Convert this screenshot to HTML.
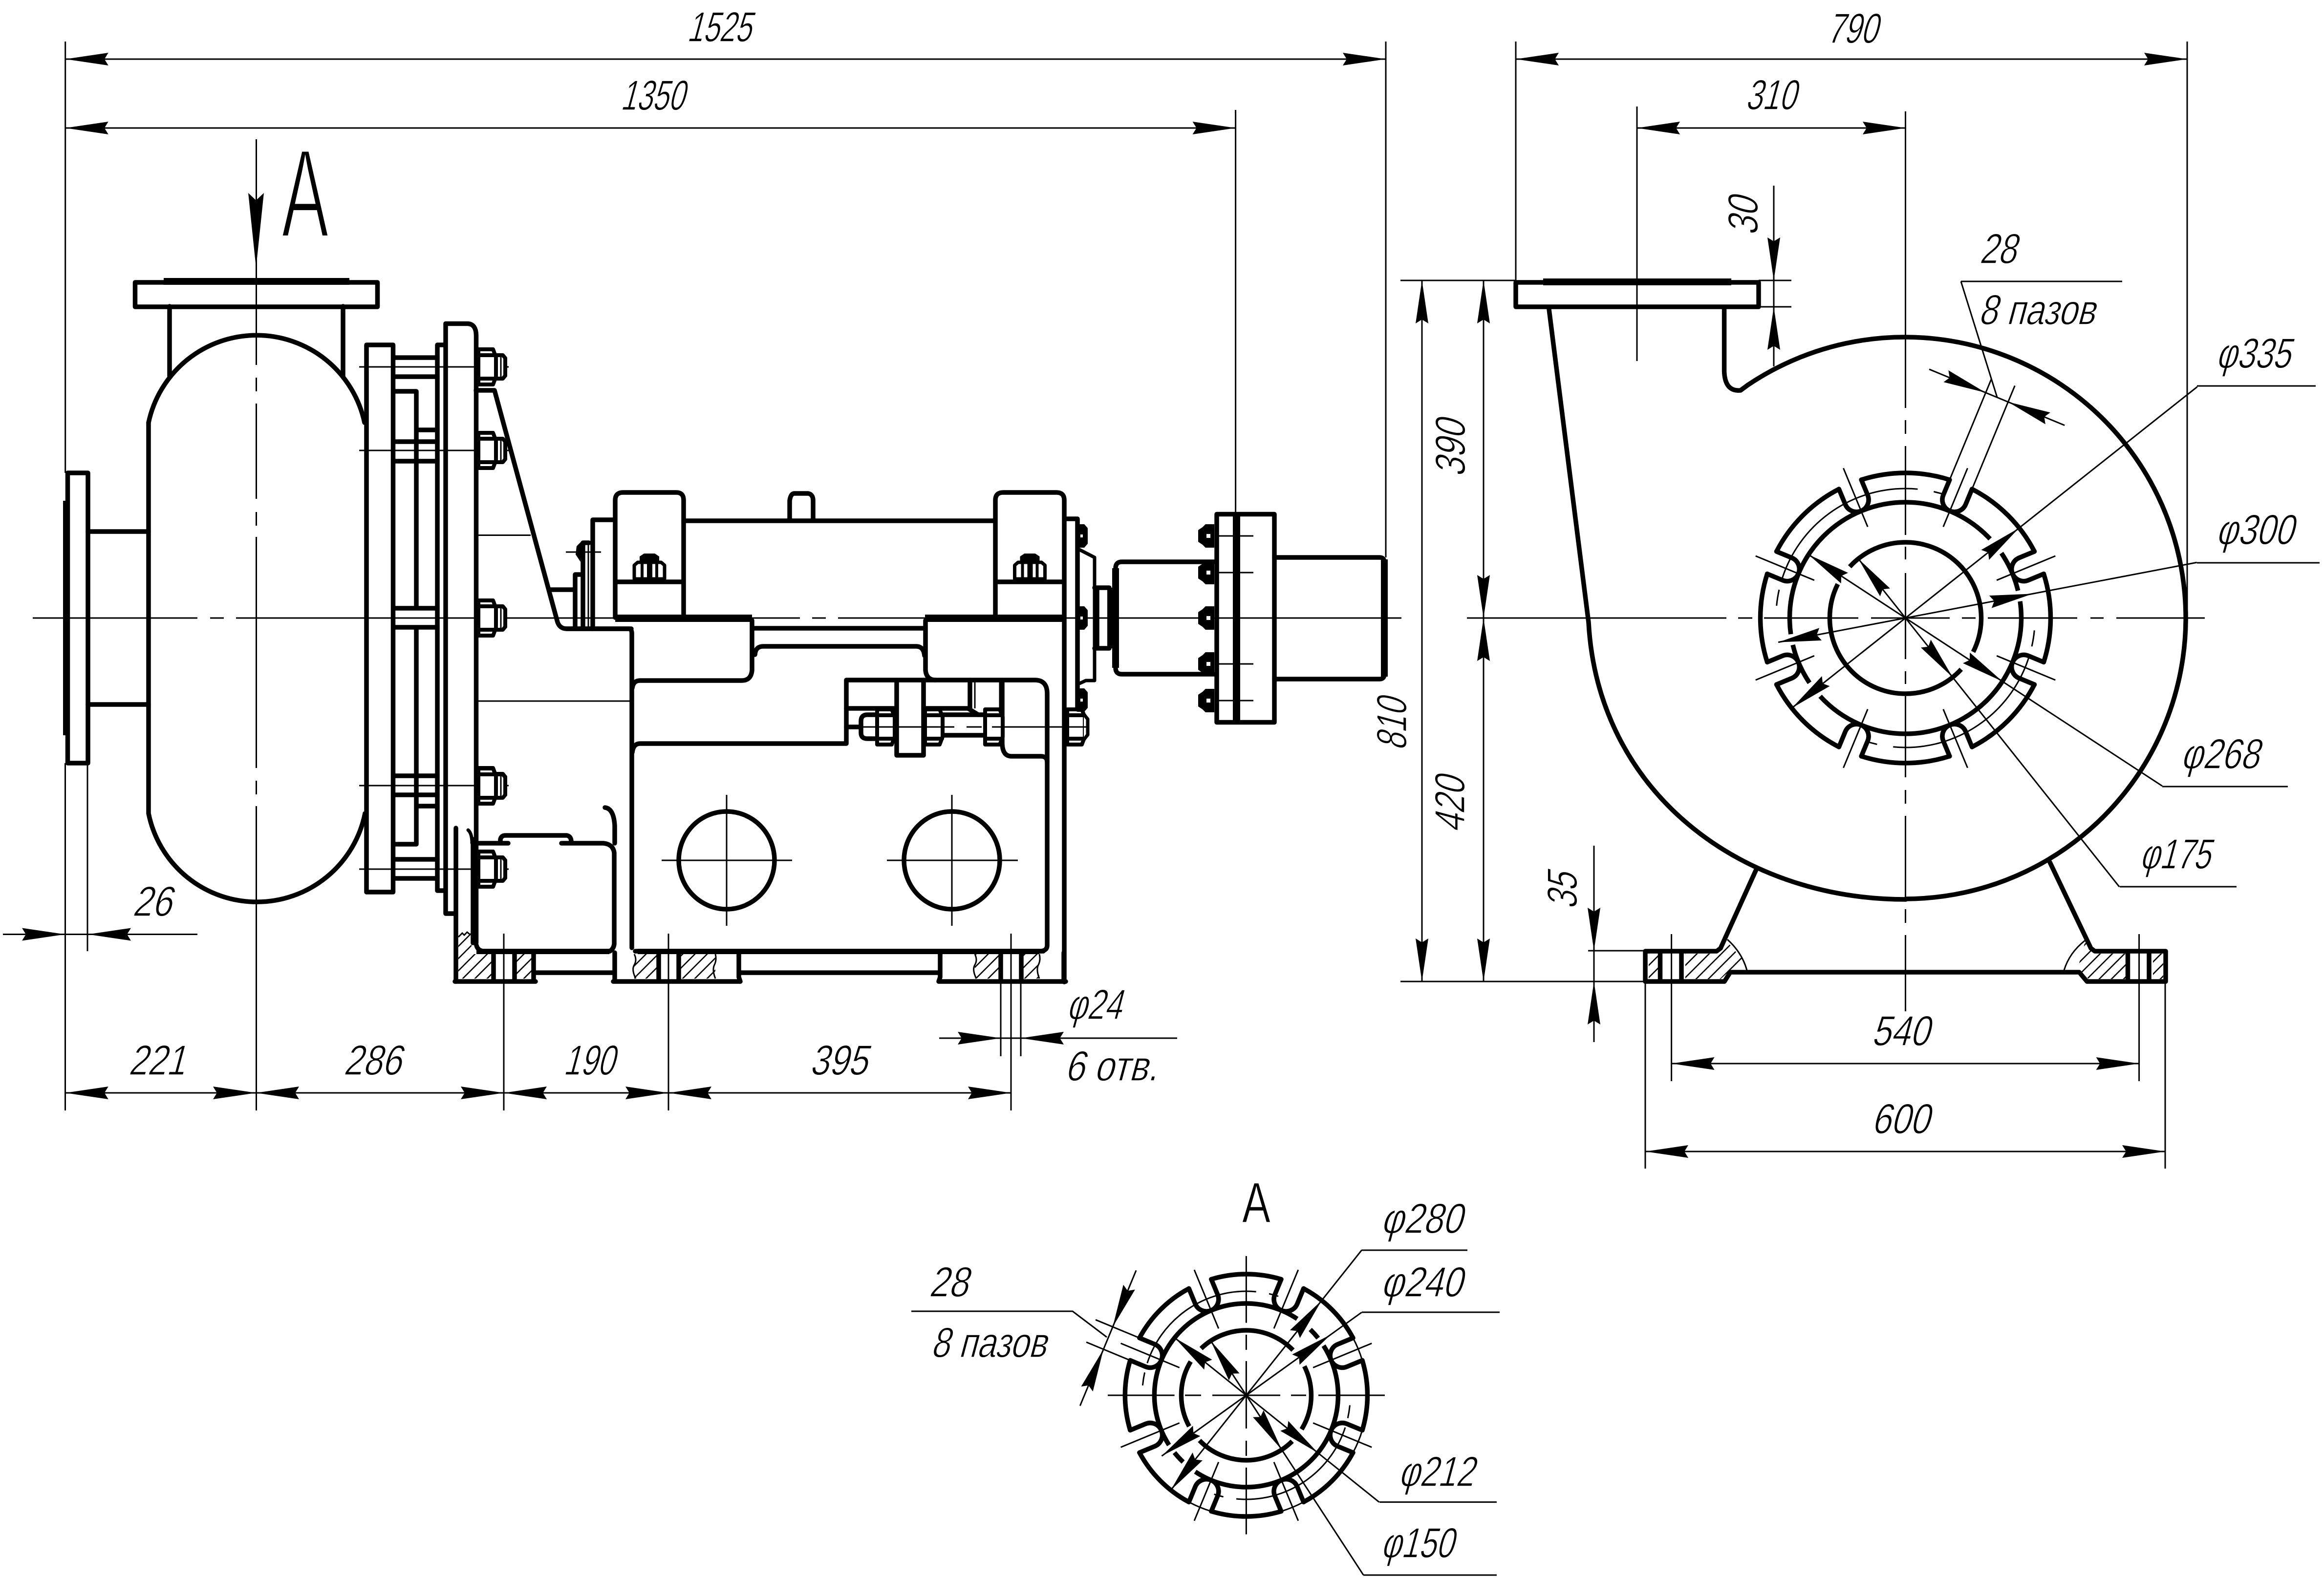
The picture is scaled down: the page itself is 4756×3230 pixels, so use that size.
<!DOCTYPE html>
<html>
<head>
<meta charset="utf-8">
<title>Pump drawing</title>
<style>
html,body{margin:0;padding:0;background:#fff}
svg{display:block}
.k{stroke:#000;fill:none;stroke-width:9.5;stroke-linejoin:round;stroke-linecap:round}
.w{stroke:#000;fill:#fff;stroke-width:8;stroke-linejoin:round}
.t{stroke:#000;fill:none;stroke-width:3}
text{font-family:"Liberation Sans",sans-serif;font-size:87px;fill:#000;stroke:#fff;stroke-width:1.5px}
</style>
</head>
<body>
<svg xmlns="http://www.w3.org/2000/svg" width="4756" height="3230" viewBox="0 0 4756 3230">
<defs>
<pattern id="h" width="25" height="25" patternUnits="userSpaceOnUse"><path d="M-5 30L30 -5M-5 5L5 -5M20 30L30 20" stroke="#000" stroke-width="2.6" fill="none"/></pattern>
<polygon id="a" points="0,0 88,-13 80,0 88,13" fill="#000"/>
<g id="n0"><path class="w" d="M0 -36H30L36 -20V20L30 36H0Z"/><path class="k" style="stroke-width:8" d="M0 -24H35M0 24H35"/></g>
<g id="n"><path class="w" d="M36 -24H50L55 -18V18L50 24H36" /><path class="t" d="M46 -24V24"/><use href="#n0"/></g>
<g id="s"><path d="M-20 -38V-48L-11 -54H11L20 -48V-38Z" fill="#000"/><path class="w" style="stroke-width:7" d="M-31 -2V-30L-24 -36H24L31 -30V-2Z"/><path stroke="#000" stroke-width="6" d="M-15 -34V-2M15 -34V-2M-2 -34V-2M3 -34V-2" fill="none"/></g>
<g id="b"><path d="M0 -24H-18L-24 -18L-33 -12V12L-24 18L-18 24H0Z" fill="#000"/><rect x="-16" y="-4" width="8" height="8" fill="#fff"/></g>
<g id="b2"><path d="M0 -24H14L21 -16V16L14 24H0Z" fill="#000"/><rect x="6" y="-3" width="5" height="6" fill="#fff"/></g>
<g id="seg1"><path class="k" d="M-90.3 -282.9A297 297 0 0 1 90.3 -282.9"/></g>
<g id="slot1"><path class="k" d="M-24.8 -296V-262A24.8 24.8 0 0 0 24.8 -262V-296"/><path class="t" d="M0 -332V-202"/></g>
<g id="seg2"><path class="k" d="M-71.5 -237.5A248 248 0 0 1 71.5 -237.5"/></g>
<g id="slot2"><path class="k" d="M-24.8 -246.8V-212.8A24.8 24.8 0 0 0 24.8 -212.8V-246.8"/><path class="t" d="M0 -278V-148"/></g>
<g id="R1"><use href="#seg1"/><use href="#seg1" transform="rotate(45)"/><use href="#seg1" transform="rotate(90)"/><use href="#seg1" transform="rotate(135)"/><use href="#seg1" transform="rotate(180)"/><use href="#seg1" transform="rotate(225)"/><use href="#seg1" transform="rotate(270)"/><use href="#seg1" transform="rotate(315)"/>
<use href="#slot1" transform="rotate(22.5)"/><use href="#slot1" transform="rotate(67.5)"/><use href="#slot1" transform="rotate(112.5)"/><use href="#slot1" transform="rotate(157.5)"/><use href="#slot1" transform="rotate(202.5)"/><use href="#slot1" transform="rotate(247.5)"/><use href="#slot1" transform="rotate(292.5)"/><use href="#slot1" transform="rotate(337.5)"/></g>
<g id="R2"><use href="#seg2"/><use href="#seg2" transform="rotate(45)"/><use href="#seg2" transform="rotate(90)"/><use href="#seg2" transform="rotate(135)"/><use href="#seg2" transform="rotate(180)"/><use href="#seg2" transform="rotate(225)"/><use href="#seg2" transform="rotate(270)"/><use href="#seg2" transform="rotate(315)"/>
<use href="#slot2" transform="rotate(22.5)"/><use href="#slot2" transform="rotate(67.5)"/><use href="#slot2" transform="rotate(112.5)"/><use href="#slot2" transform="rotate(157.5)"/><use href="#slot2" transform="rotate(202.5)"/><use href="#slot2" transform="rotate(247.5)"/><use href="#slot2" transform="rotate(292.5)"/><use href="#slot2" transform="rotate(337.5)"/></g>
</defs>
<rect width="4756" height="3230" fill="#fff"/>

<!-- ======= SIDE VIEW: centre lines ======= -->
<path class="t" d="M67 1265H404M430 1265H458M483 1265H1637M1662 1265H1690M1715 1265H2868"/>
<path class="t" d="M524.5 285V747M524.5 773V801M524.5 826V1021M524.5 1048V1076M524.5 1099V1572M524.5 1598V1626M524.5 1650V2273"/>

<!-- casing -->
<path class="k" d="M304 865A226 226 0 0 1 746 865"/>
<path class="k" d="M304 865V1665A226 226 0 0 0 747 1665"/>
<path class="k" d="M347 627V770M702 627V770"/>
<rect class="k" x="276.5" y="578" width="496" height="50"/>
<rect x="335" y="569" width="380" height="14" fill="#000"/>
<!-- inlet flange -->
<rect class="k" x="138.5" y="968" width="41.5" height="594"/>
<rect x="129" y="1025" width="14" height="480" fill="#000"/>
<path class="k" d="M180 1088H304M180 1442H304"/>

<!-- plates -->
<rect class="k" x="750" y="706" width="54.5" height="1120"/>
<path class="k" d="M895 1823V706H912M912 662.5V1870H932M895 1823H912"/>
<path class="k" d="M912 662.5H958Q974 664 974.5 686V1930"/>
<path class="k" d="M805 732H895M805 771H895M805 801H852V1245M852 880H895M805 904H895M805 944H895M805 1245H895M805 1284H895M852 1284V1728H805M853 1650H895M805 1588H895M805 1627H895M805 1759H895M805 1798H895"/>
<path class="t" d="M735 751H1041M735 922H1041M735 1265H1041M735 1608H1041M735 1779H1041"/>
<use href="#n" x="979" y="751"/><use href="#n" x="979" y="922"/><use href="#n" x="979" y="1265"/><use href="#n" x="979" y="1608"/><use href="#n" x="979" y="1779"/>

<!-- slanted support -->
<path class="k" d="M974 799H1012L1140 1270Q1144 1287 1160 1287H1292"/>
<path class="t" d="M974 1095.5H1086M974 1435H1292"/>
<path class="k" d="M1124 1207H1177M1177 1287V1176H1193M1193 1287V1111H1205M1213 1287V1064H1255"/>
<path class="t" d="M1204 1111V1287M1158 1130H1230"/>
<path d="M1190 1108L1180 1118L1178 1135L1188 1150Z" fill="#000"/>

<!-- clamps and bearing body -->
<path class="k" d="M1259 1264V1024Q1259 1008 1275 1008H1384Q1399 1008 1399 1024V1264M1259 1191H1399"/>
<path class="k" d="M2037 1264V1024Q2037 1008 2053 1008H2162Q2178 1008 2178 1024V2010M2037 1191H2178"/>
<path class="k" d="M1399 1066H2037M1616 1062V1025Q1618 1010 1626 1010H1654Q1664 1012 1664 1025V1062"/>
<rect x="1259" y="1258" width="280" height="15" fill="#000"/>
<rect x="1893" y="1258" width="285" height="15" fill="#000"/>
<path class="k" d="M1545 1286H1893"/>
<use href="#s" x="1329" y="1187"/><use href="#s" x="2107.5" y="1187"/>

<!-- frame shapes -->
<path class="k" d="M1159 1287H1287Q1292 1287 1293 1295V1940"/>
<path class="k" d="M1539 1270V1372Q1537 1393 1518 1393H1310Q1296 1393 1294 1408"/>
<path class="k" d="M1545 1340Q1546 1323 1562 1323H1875Q1890 1323 1892 1342"/>
<path class="k" d="M1894 1270V1372Q1896 1392 1915 1392H2118Q2143 1392 2143 1420V1935Q2143 1947 2127 1947"/>
<path class="k" d="M1732 1392H1915M1732 1392V1522H1310Q1296 1522 1294 1540"/>
<path class="k" d="M1732 1450H1830M1890 1450H1981L2002 1463M1985 1392V1450M2051 1392V1520Q2051 1548 2070 1548H2130Q2143 1548 2143 1560"/>
<path class="k" d="M1835 1392V1546H1890V1392"/>
<path class="t" d="M1995 1392V1450M2046 1392V1450"/>
<path class="k" d="M1732 1488H1760"/>
<path class="k" d="M1795 1463H1775Q1762 1463 1762 1476V1500Q1762 1512 1775 1512H1795"/>
<path class="k" d="M1925 1463H2016M1925 1505H2016"/>
<use href="#n0" x="1795" y="1488"/><use href="#n0" x="1893" y="1488"/><use href="#n0" x="2016" y="1488"/><use href="#n0" x="2184" y="1488"/>
<path class="w" style="stroke-width:7" d="M2218 1462L2226 1472V1504L2218 1514"/>
<path class="t" d="M1760 1488H1953M1978 1488H2009M2030 1488H2223"/>

<!-- lower frame / box -->
<path class="k" d="M1300 1947H2135M975 1935Q978 1947 992 1947H1248"/>
<path class="k" d="M968 1718V1930"/>
<path class="k" d="M974 1726H1040M1024 1726V1718Q1026 1710 1034 1710H1160Q1170 1712 1169 1726H1149M1149 1726H1235Q1255 1728 1257 1746V1932Q1256 1942 1248 1947"/>
<path class="k" d="M1238 1653Q1256 1655 1258 1690V1726"/>
<path class="k" style="stroke-width:7" d="M958 1699Q966 1706 966 1726"/>
<path class="k" d="M933 1695V2009"/>
<use href="#n" x="979" y="1609"/><use href="#n" x="979" y="1779"/>
<path class="k" d="M931 2009H1096M1092 1950V2009M1096 1991H1255M1258 1950V2009M1255 2009H1515M1512 1950V2000L1515 2009M1515 1991H1921M1924 1950V2000L1921 2009M1921 2009H2181M2177 1950V2009"/>
<path class="k" d="M1010 1950V2005M1053 1950V2005M1348 1950V2005M1389 1950V2005M2048 1950V2005M2090 1950V2005"/>
<rect x="975" y="1942" width="272" height="11" fill="#000"/><rect x="1305" y="1942" width="822" height="11" fill="#000"/>
<!-- hatching side -->
<rect x="938" y="1953" width="68" height="50" fill="url(#h)"/>
<polygon points="938,1915 965,1890 965,1953 938,1953" fill="url(#h)"/>
<path class="t" d="M938 1918l8-8 4 4 6-6 6 5"/>
<rect x="1057" y="1953" width="31" height="50" fill="url(#h)"/>
<rect x="1298" y="1953" width="46" height="50" fill="url(#h)"/>
<rect x="1393" y="1953" width="71" height="50" fill="url(#h)"/>
<rect x="1995" y="1953" width="49" height="50" fill="url(#h)"/>
<rect x="2094" y="1953" width="33" height="50" fill="url(#h)"/>
<path class="t" d="M1298 1953q6 12 0 22t3 28M1464 1953q3 12 -2 22t2 28M1995 1953q6 12 0 22t3 28M2127 1953q3 12 -2 22t2 28"/>

<ellipse class="k" cx="1487" cy="1761" rx="98" ry="100"/>
<ellipse class="k" cx="1948" cy="1761" rx="98" ry="100"/>
<path class="t" d="M1354 1761H1621M1487 1627V1895M1815 1761H2083M1948 1627V1895"/>

<!-- shaft side -->
<path class="k" d="M2178 1062H2205V1452"/>
<path class="k" style="stroke-width:7" d="M2207 1124L2240 1141V1393H2222L2207 1400"/>
<use href="#b2" x="2205" y="1097"/><use href="#b2" x="2205" y="1265"/><use href="#b2" x="2205" y="1433"/>
<path class="k" d="M2240 1203H2270M2240 1327H2270M2245 1203V1327"/>
<rect x="2266" y="1203" width="17" height="124" fill="#000"/>
<path class="k" d="M2485 1150H2296Q2283 1150 2283 1163V1367Q2283 1380 2296 1380H2485"/>
<rect x="2276" y="1163" width="14" height="204" fill="#000"/>
<rect class="k" x="2490" y="1052.5" width="118" height="426"/>
<rect x="2523" y="1052" width="15" height="427" fill="#000"/>
<path class="k" d="M2608 1141H2823Q2833 1141 2833 1151V1380Q2833 1390 2823 1390H2608"/>
<rect x="2826" y="1145" width="14" height="240" fill="#000"/>
<use href="#b" x="2485" y="1097"/><use href="#b" x="2485" y="1172"/><use href="#b" x="2485" y="1265"/><use href="#b" x="2485" y="1359"/><use href="#b" x="2485" y="1434"/>
<path class="t" d="M2490 1097H2565M2490 1172H2565M2490 1359H2565M2490 1434H2565"/>

<!-- ======= SIDE VIEW: dimensions ======= -->
<path class="t" d="M133.7 85V968M133.5 1562V2273M179 1562V1947M2836 85V1141M2528.6 225V1052M1031 1911V2273M1368 1911V2273M2069 1911V2273"/>
<path class="t" d="M133.7 121H2836M133.7 262H2528.6M133.7 2237H2069"/>
<use href="#a" transform="translate(133.7 121)"/><use href="#a" transform="translate(2836 121) rotate(180)"/>
<use href="#a" transform="translate(133.7 262)"/><use href="#a" transform="translate(2528.6 262) rotate(180)"/>
<use href="#a" transform="translate(133.7 2237)"/><use href="#a" transform="translate(524 2237) rotate(180)"/>
<use href="#a" transform="translate(524 2237)"/><use href="#a" transform="translate(1031 2237) rotate(180)"/>
<use href="#a" transform="translate(1031 2237)"/><use href="#a" transform="translate(1368 2237) rotate(180)"/>
<use href="#a" transform="translate(1368 2237)"/><use href="#a" transform="translate(2069 2237) rotate(180)"/>
<path class="t" d="M6 1912.5H404"/>
<use href="#a" transform="translate(133 1912.5) rotate(180)"/><use href="#a" transform="translate(180 1912.5)"/>
<path class="t" d="M2048 2009V2162M2089 2009V2162M1922 2125H2409"/>
<use href="#a" transform="translate(2048 2125) rotate(180)"/><use href="#a" transform="translate(2089 2125)"/>
<polygon points="524,548 508,395 524,410 540,395" fill="#000"/>

<text transform="translate(1405 85) skewX(-15)" textLength="131" lengthAdjust="spacingAndGlyphs">1525</text>
<text transform="translate(1269 225) skewX(-15)" textLength="130" lengthAdjust="spacingAndGlyphs">1350</text>
<text transform="translate(262 2200) skewX(-15)" textLength="116" lengthAdjust="spacingAndGlyphs">221</text>
<text transform="translate(702 2200) skewX(-15)" textLength="118" lengthAdjust="spacingAndGlyphs">286</text>
<text transform="translate(1152 2200) skewX(-15)" textLength="104" lengthAdjust="spacingAndGlyphs">190</text>
<text transform="translate(1656 2200) skewX(-15)" textLength="118" lengthAdjust="spacingAndGlyphs">395</text>
<text transform="translate(270 1875) skewX(-15)" textLength="80" lengthAdjust="spacingAndGlyphs">26</text>
<text transform="translate(2182 2086) skewX(-15)" textLength="112" lengthAdjust="spacingAndGlyphs">φ24</text>
<text transform="translate(2178 2212) skewX(-15)" textLength="190" lengthAdjust="spacingAndGlyphs">6 отв.</text>
<text transform="translate(2878 1537) rotate(-90) skewX(-15)" textLength="106" lengthAdjust="spacingAndGlyphs">810</text>
<text transform="translate(576 485)" textLength="97" lengthAdjust="spacingAndGlyphs" style="font-size:258px;stroke:#fff;stroke-width:6px">A</text>

<!-- ======= RIGHT VIEW ======= -->
<path class="t" d="M3002 1265H3533M3557 1265H3586M3610 1265H3803M3829 1265H3990M4015 1265H4043M4068 1265H4251M4278 1265H4305M4331 1265H4512"/>
<path class="t" d="M3899.5 228V835M3899.5 860V888M3899.5 913V1095M3899.5 1119V1145M3899.5 1173V1349M3899.5 1374V1400M3899.5 1425V1591M3899.5 1617V1645M3899.5 1670V1836M3899.5 1861V1889M3899.5 1914V2070"/>
<path class="t" d="M3350 218V739"/>
<rect class="k" x="3102" y="578" width="497" height="50"/>
<rect x="3158" y="570" width="385" height="14" fill="#000"/>
<path class="k" d="M3170 633L3251 1274C3270 1620 3560 1841 3900 1841"/>
<path class="k" d="M3528.6 631V760Q3530 802 3562 799L3577 788A575 575 0 1 1 3900 1840"/>
<!-- feet -->
<path class="k" d="M3594 1780L3521 1941L3513 1947H3367V2009H3529L3541 1990H4255L4271 2009H4432V1947H4287L4279 1941L4195 1765"/>
<path class="k" d="M3397.5 1952V2005M3441 1952V2005M4354.5 1952V2005M4398 1952V2005"/>
<polygon points="3449,1952 3521,1952 3535,1928 3565,1963 3541,1986 3521,2004 3449,2004" fill="url(#h)"/>
<polygon points="4251,1986 4267,1928 4287,1952 4350,1952 4350,2004 4275,2004" fill="url(#h)"/>
<rect x="3374" y="1952" width="19" height="52" fill="url(#h)"/>
<rect x="4406" y="1952" width="21" height="52" fill="url(#h)"/>
<path class="t" d="M3535 1923Q3565 1950 3575 1986M4267 1925Q4235 1950 4224 1986"/>

<!-- ring -->
<g transform="translate(3899.5 1265)">
<use href="#R1"/>
<circle class="k" style="stroke-linecap:butt" r="237" pathLength="360" stroke-dasharray="137.5 8.5 20.6 5.4 145 9 20.4 5.4 8.2"/>
<circle class="k" style="stroke-linecap:butt" r="155" pathLength="360" stroke-dasharray="26.6 16 164 16 137.4"/>
<circle class="t" r="265" pathLength="360" stroke-dasharray="0 5.5 7.2 5.3 72"/>
<g transform="rotate(22.5)"><path class="t" d="M-24.8 -296V-520M24.8 -296V-525M-150 -489H150"/><use href="#a" transform="translate(-24.8 -489) rotate(180)"/><use href="#a" transform="translate(24.8 -489)"/></g>
<g transform="rotate(-38.4)"><path class="t" d="M-296 0H762"/><use href="#a" transform="translate(296 0) rotate(180)"/><use href="#a" transform="translate(-296 0)"/></g>
<g transform="rotate(-10.8)"><path class="t" d="M-265 0H607"/><use href="#a" transform="translate(265 0) rotate(180)"/><use href="#a" transform="translate(-265 0)"/></g>
<g transform="rotate(33.2)"><path class="t" d="M-237 0H628"/><use href="#a" transform="translate(237 0) rotate(180)"/><use href="#a" transform="translate(-237 0)"/></g>
<g transform="rotate(51.5)"><path class="t" d="M-155 0H703"/><use href="#a" transform="translate(155 0) rotate(180)"/><use href="#a" transform="translate(-155 0)"/></g>
</g>
<path class="t" d="M4496 790H4739M4496 1152H4747M4425 1610H4682M4338 1815H4577M4013 576H4343M4013 576L4087 813"/>

<!-- right dims -->
<path class="t" d="M3102 85V578M4476 85V1265M3102 121H4476M3350 262H3900"/>
<use href="#a" transform="translate(3102 121)"/><use href="#a" transform="translate(4476 121) rotate(180)"/>
<use href="#a" transform="translate(3350 262)"/><use href="#a" transform="translate(3900 262) rotate(180)"/>
<path class="t" d="M2866 574H3102M3599 574H3666M3599 628H3666M3630 380V750M2866 2009H3367M3250 1946H3367M2910 574V2009M3036 574V2009M3262 1731V2133"/>
<use href="#a" transform="translate(3630 574) rotate(-90)"/><use href="#a" transform="translate(3630 628) rotate(90)"/>
<use href="#a" transform="translate(2910 574) rotate(90)"/><use href="#a" transform="translate(2910 2009) rotate(-90)"/>
<use href="#a" transform="translate(3036 574) rotate(90)"/><use href="#a" transform="translate(3036 1265) rotate(-90)"/>
<use href="#a" transform="translate(3036 1265) rotate(90)"/><use href="#a" transform="translate(3036 2009) rotate(-90)"/>
<use href="#a" transform="translate(3262 1946) rotate(-90)"/><use href="#a" transform="translate(3262 2009) rotate(90)"/>
<path class="t" d="M3420.6 1912V2213M4377.6 1912V2213M3367 2009V2392M4431 2009V2392M3420.6 2177H4377.6M3367 2357H4431"/>
<use href="#a" transform="translate(3420.6 2177)"/><use href="#a" transform="translate(4377.6 2177) rotate(180)"/>
<use href="#a" transform="translate(3367 2357)"/><use href="#a" transform="translate(4431 2357) rotate(180)"/>

<text transform="translate(3738 88) skewX(-15)" textLength="103" lengthAdjust="spacingAndGlyphs">790</text>
<text transform="translate(3571 224) skewX(-15)" textLength="103" lengthAdjust="spacingAndGlyphs">310</text>
<text transform="translate(3829 2140) skewX(-15)" textLength="118" lengthAdjust="spacingAndGlyphs">540</text>
<text transform="translate(3829 2320) skewX(-15)" textLength="118" lengthAdjust="spacingAndGlyphs">600</text>
<text transform="translate(3597 483) rotate(-90) skewX(-15)" textLength="78" lengthAdjust="spacingAndGlyphs">30</text>
<text transform="translate(2998 977) rotate(-90) skewX(-15)" textLength="116" lengthAdjust="spacingAndGlyphs">390</text>
<text transform="translate(2997 1705) rotate(-90) skewX(-15)" textLength="114" lengthAdjust="spacingAndGlyphs">420</text>
<text transform="translate(3227 1862) rotate(-90) skewX(-15)" textLength="74" lengthAdjust="spacingAndGlyphs">35</text>
<text transform="translate(4050 539) skewX(-15)" textLength="75" lengthAdjust="spacingAndGlyphs">28</text>
<text transform="translate(4048 664) skewX(-15)" textLength="238" lengthAdjust="spacingAndGlyphs">8 пазов</text>
<text transform="translate(4534 753) skewX(-15)" textLength="152" lengthAdjust="spacingAndGlyphs">φ335</text>
<text transform="translate(4534 1114) skewX(-15)" textLength="158" lengthAdjust="spacingAndGlyphs">φ300</text>
<text transform="translate(4462 1573) skewX(-15)" textLength="160" lengthAdjust="spacingAndGlyphs">φ268</text>
<text transform="translate(4378 1778) skewX(-15)" textLength="144" lengthAdjust="spacingAndGlyphs">φ175</text>

<!-- ======= VIEW A ======= -->
<path class="t" d="M2267 2856H2403.6M2425 2856H2458M2481 2856H2620M2642 2856H2673M2698 2856H2834"/>
<path class="t" d="M2550.4 2571V2707.6M2550.4 2732V2763M2550.4 2786V2924M2550.4 2949V2980M2550.4 3004V3140.6"/>
<g transform="translate(2550.4 2856)">
<use href="#R2"/>
<circle class="k" style="stroke-linecap:butt" r="188" pathLength="360" stroke-dasharray="123.7 9.7 8 5.8 156.5 10.5 7.3 5.8 32.7"/>
<circle class="k" style="stroke-linecap:butt" r="133" pathLength="360" stroke-dasharray="31.6 13.4 91 15.4 59.9 14.7 90 17.4 26.6"/>
<circle class="t" r="213" pathLength="360" stroke-dasharray="0 5.5 7.2 5.3 72"/>
<circle class="t" r="248" pathLength="360" stroke-dasharray="0 16.8 11.4 33.6 11.4 33.6 11.4 213.6 11.4 16.8"/>
<g transform="rotate(-67.5)"><path class="t" d="M-24.8 -246.8V-344M24.8 -246.8V-344M-150 -306H150"/><use href="#a" transform="translate(24.8 -306)"/><use href="#a" transform="translate(-24.8 -306) rotate(180)"/></g>
<g transform="rotate(-51.5)"><path class="t" d="M-248 0H380"/><use href="#a" transform="translate(248 0) rotate(180)"/><use href="#a" transform="translate(-248 0)"/></g>
<g transform="rotate(-35.7)"><path class="t" d="M-213 0H291"/><use href="#a" transform="translate(213 0) rotate(180)"/><use href="#a" transform="translate(-213 0)"/></g>
<g transform="rotate(38.8)"><path class="t" d="M-188 0H349"/><use href="#a" transform="translate(188 0) rotate(180)"/><use href="#a" transform="translate(-188 0)"/></g>
<g transform="rotate(56.9)"><path class="t" d="M-133 0H439"/><use href="#a" transform="translate(133 0) rotate(180)"/><use href="#a" transform="translate(-133 0)"/></g>
</g>
<path class="t" d="M2787 2559H3003M2787 2686H3069M2823 3074.6H3063M2790 3224H3063M1865 2684H2195L2265 2737"/>
<text transform="translate(2542 2502)" textLength="58" lengthAdjust="spacingAndGlyphs" style="font-size:117px">A</text>
<text transform="translate(1900 2654) skewX(-15)" textLength="80" lengthAdjust="spacingAndGlyphs">28</text>
<text transform="translate(1904 2778) skewX(-15)" textLength="236" lengthAdjust="spacingAndGlyphs">8 пазов</text>
<text transform="translate(2825 2524) skewX(-15)" textLength="166" lengthAdjust="spacingAndGlyphs">φ280</text>
<text transform="translate(2825 2654) skewX(-15)" textLength="166" lengthAdjust="spacingAndGlyphs">φ240</text>
<text transform="translate(2861 3042) skewX(-15)" textLength="154" lengthAdjust="spacingAndGlyphs">φ212</text>
<text transform="translate(2825 3188) skewX(-15)" textLength="148" lengthAdjust="spacingAndGlyphs">φ150</text>
</svg>
</body>
</html>
